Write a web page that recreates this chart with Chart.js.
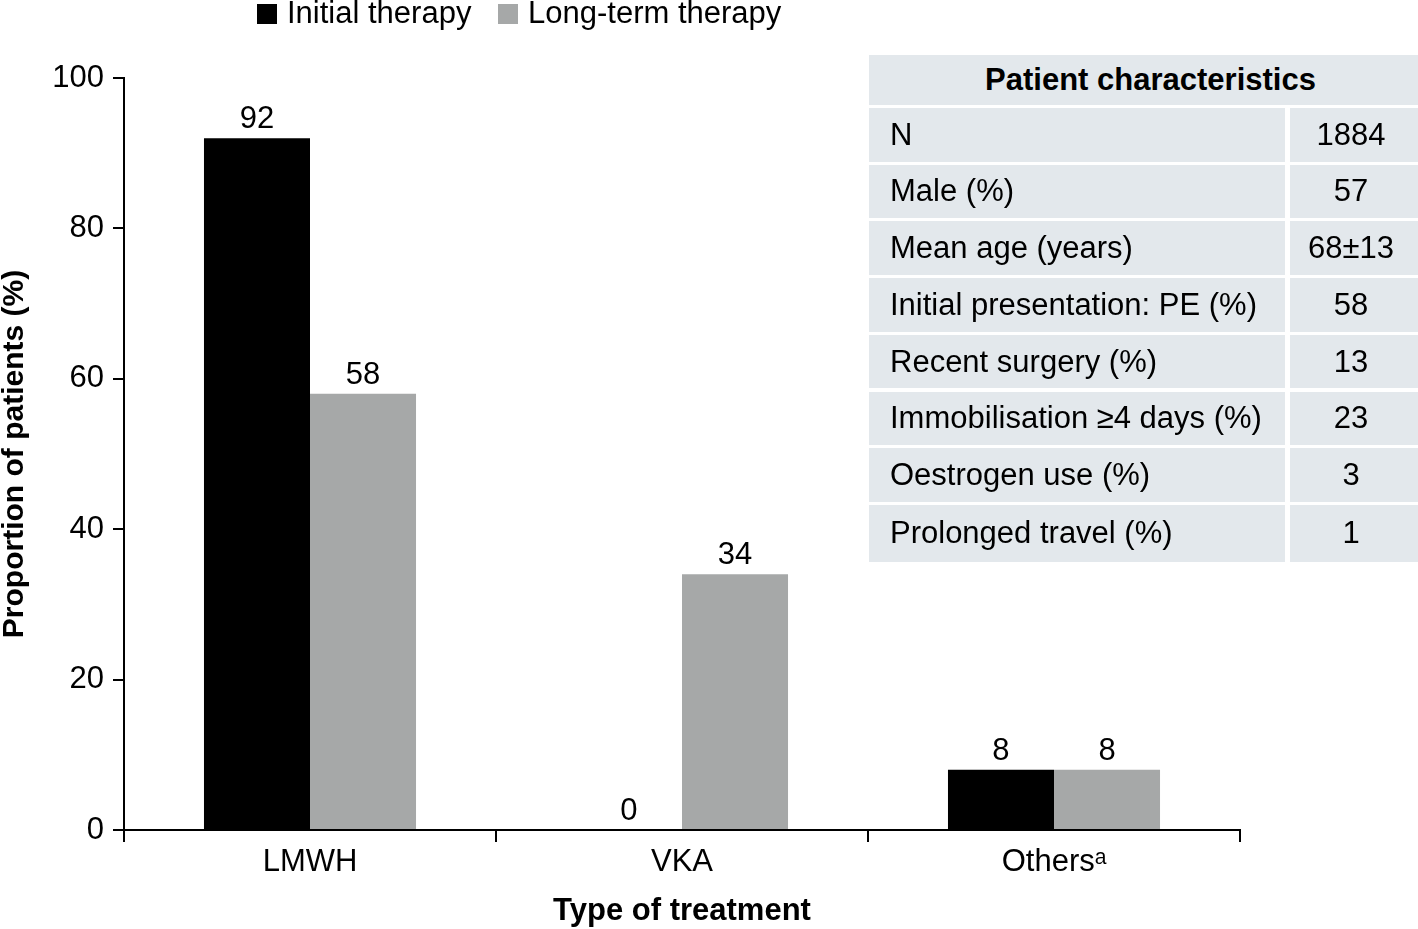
<!DOCTYPE html>
<html>
<head>
<meta charset="utf-8">
<script src="https://cdn.jsdelivr.net/npm/chart.js@4"></script>
<style>
  html, body { margin: 0; padding: 0; background: #fff; }
  body { width: 1418px; height: 929px; position: relative; overflow: hidden;
         font-family: "Liberation Sans", Arial, sans-serif; color: #000; }
  #chart { position: absolute; left: 0; top: 0; }
  .legend-box { position: absolute; width: 20px; height: 20px; top: 4px; }
  .legend-text { position: absolute; top: -4px; font-size: 31px; line-height: 34px; white-space: nowrap; }
  #table { position: absolute; left: 869px; top: 55px; width: 549px; }
  .cell { position: absolute; background: #e3e8ec; font-size: 31px; display: flex; align-items: center; white-space: nowrap; box-sizing: border-box; }
  .head { font-weight: bold; justify-content: center; padding-left: 14px; }
  .lab { padding-left: 21px; }
  .val { justify-content: center; padding-right: 6px; }
</style>
</head>
<body>
<canvas id="chart" width="1418" height="929"></canvas>
<div class="legend-box" style="left:257px; background:#000"></div>
<div class="legend-text" style="left:287px">Initial therapy</div>
<div class="legend-box" style="left:498px; background:#a6a8a8"></div>
<div class="legend-text" style="left:528px">Long-term therapy</div>
<div id="table"></div>
<script>
const categories = ['LMWH', 'VKA', 'Others\u1d43'];
const initialTherapy = [92, 0, 8];
const longTermTherapy = [58, 34, 8];
const seriesNames = ['Initial therapy', 'Long-term therapy'];
const yTicks = [0, 20, 40, 60, 80, 100];

const tableTitle = 'Patient characteristics';
const tableLabels = ['N', 'Male (%)', 'Mean age (years)', 'Initial presentation: PE (%)',
  'Recent surgery (%)', 'Immobilisation \u22654 days (%)', 'Oestrogen use (%)', 'Prolonged travel (%)'];
const tableValues = ['1884', '57', '68\u00b113', '58', '13', '23', '3', '1'];

// table of patient characteristics
let table = document.getElementById('table');
function addCell(cls, text, left, top, w, h) {
    let d = document.createElement('div');
    d.className = 'cell ' + cls;
    d.textContent = text;
    d.style.left = left + 'px';
    d.style.top = top + 'px';
    d.style.width = w + 'px';
    d.style.height = h + 'px';
    table.appendChild(d);
}
addCell('head', tableTitle, 0, 0, 549, 50);
tableLabels.forEach(function (lab, i) {
    let top = 53 + i * 56.7;
    let h = (i === tableLabels.length - 1) ? 57 : 53.5;
    addCell('lab', lab, 0, top, 416, h);
    addCell('val', tableValues[i], 421, top, 128, h);
});

const black = '#000';
const font = 'Liberation Sans, Arial, sans-serif';

const barLabels = {
    id: 'barLabels',
    afterDatasetsDraw(chart) {
        let ctx = chart.ctx;
        ctx.save();
        ctx.fillStyle = black;
        ctx.font = '31px ' + font;
        ctx.textAlign = 'center';
        ctx.textBaseline = 'alphabetic';
        chart.data.datasets.forEach(function (ds, i) {
            chart.getDatasetMeta(i).data.forEach(function (bar, j) {
                ctx.fillText(String(ds.data[j]), bar.x, bar.y - 10);
            });
        });
        ctx.restore();
    }
};

new Chart(document.getElementById('chart'), {
    type: 'bar',
    data: {
        labels: categories,
        datasets: [
            { label: seriesNames[0], data: initialTherapy, backgroundColor: '#000' },
            { label: seriesNames[1], data: longTermTherapy, backgroundColor: '#a6a8a8' }
        ]
    },
    options: {
        responsive: false,
        animation: false,
        devicePixelRatio: 1,
        categoryPercentage: 0.57,
        barPercentage: 1,
        layout: { padding: { top: 78, right: 178, bottom: 0, left: 0 } },
        plugins: { legend: { display: false }, tooltip: { enabled: false } },
        scales: {
            x: {
                grid: { drawOnChartArea: false, tickLength: 12, color: black, lineWidth: 2 },
                border: { color: black, width: 2 },
                ticks: { color: black, font: { family: font, size: 31 }, padding: 2 },
                title: { display: true, text: 'Type of treatment', color: black,
                         font: { family: font, size: 31, weight: 'bold', lineHeight: 1.1 }, padding: 0 },
                afterFit: function (s) { s.height = 99; }
            },
            y: {
                min: 0, max: 100,
                afterBuildTicks: function (s) { s.ticks = yTicks.map(v => ({ value: v })); },
                grid: { drawOnChartArea: false, tickLength: 11, color: black, lineWidth: 2 },
                border: { color: black, width: 2 },
                ticks: { color: black, font: { family: font, size: 31 }, padding: 9 },
                title: { display: true, text: 'Proportion of patients (%)', color: black,
                         font: { family: font, size: 30, weight: 'bold', lineHeight: 1 }, padding: 0 },
                afterFit: function (s) { s.width = 124; }
            }
        }
    },
    plugins: [barLabels]
});
</script>
</body>
</html>
